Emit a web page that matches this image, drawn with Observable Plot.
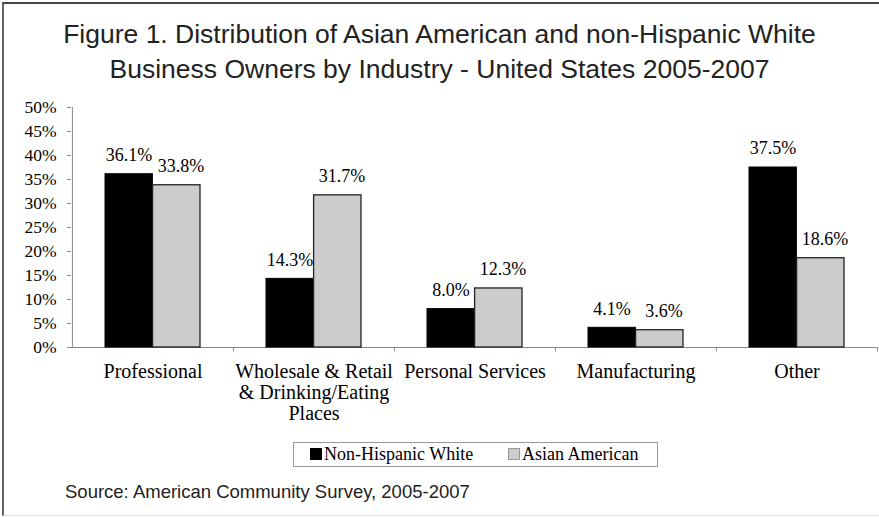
<!DOCTYPE html>
<html><head><meta charset="utf-8">
<script src="https://cdn.jsdelivr.net/npm/d3@7"></script>
<script src="https://cdn.jsdelivr.net/npm/@observablehq/plot@0.6"></script>
<style>
body{margin:0;background:#fff;width:879px;height:517px;overflow:hidden;position:relative;}
#frame{position:absolute;left:2px;top:2px;width:900px;height:511px;border-left:2px solid #666;border-top:2px solid #444;border-bottom:1px solid #ddd;}
#title{position:absolute;left:0;top:17px;width:879px;text-align:center;font-family:"Liberation Sans",Arial,sans-serif;font-size:26.5px;line-height:35px;color:#222;}
#chart{position:absolute;left:0;top:90px;}
#legend{position:absolute;left:293px;top:442px;width:363px;height:23px;border:1px solid #999;font-family:"Liberation Serif",serif;font-size:18px;color:#000;}
.item{position:absolute;top:1px;line-height:21px;white-space:nowrap;}
.sw{display:inline-block;width:10px;height:10px;margin-right:2px;vertical-align:0px;}
#source{position:absolute;left:65px;top:481px;font-family:"Liberation Sans",Arial,sans-serif;font-size:18.5px;color:#222;}
</style></head>
<body>
<div id="frame"></div>
<div id="title">Figure 1. Distribution of Asian American and non-Hispanic White<br>Business Owners by Industry - United States 2005-2007</div>
<div id="chart"></div>
<div id="legend"></div>
<div id="source">Source: American Community Survey, 2005-2007</div>
<script>
const categories = ["Professional","Wholesale","Personal Services","Manufacturing","Other"];
const tickLabels = ["Professional","Wholesale & Retail\n& Drinking/Eating\nPlaces","Personal Services","Manufacturing","Other"];
const series = ["Non-Hispanic White","Asian American"];
const whiteValues = [36.1,14.3,8.0,4.1,37.5];
const asianValues = [33.8,31.7,12.3,3.6,18.6];
const yTicks = [0,5,10,15,20,25,30,35,40,45,50];
const colors = ["#000000","#cccccc"];

const serif = "'Liberation Serif', 'Times New Roman', serif";
const white = categories.map((c,i)=>({category:c, series:series[0], value:whiteValues[i]}));
const asian = categories.map((c,i)=>({category:c, series:series[1], value:asianValues[i]}));
const labelOf = new Map(categories.map((c,i)=>[c,tickLabels[i]]));

const plot = Plot.plot({
  width: 879, height: 340,
  marginLeft: 71, marginRight: 2, marginTop: 17, marginBottom: 83,
  style: {fontFamily: serif, fontSize: "18px", color: "#000", background: "transparent", overflow: "visible"},
  x: {domain: categories, padding: 0, label: null},
  y: {domain: [0,50], label: null},
  marks: [
    Plot.axisY({ticks: yTicks, tickFormat: d => d + "%", tickSize: 4, tickPadding: 11, stroke: "#888", fill: "#000", fontSize: 17.5, fontFamily: serif, fontVariant: "normal"}),
    Plot.ruleY([0], {stroke: "#888"}),
    Plot.ruleX([categories[0]], {y1: 0, y2: 50, dx: -80.6, stroke: "#888"}),
    Plot.ruleX(categories.slice(1), {y1: 0, y2: -0.9, dx: -80.6, stroke: "#888"}),
    Plot.ruleX(categories.slice(-1), {y1: 0, y2: -0.9, dx: 80.6, stroke: "#888"}),
    Plot.barY(white, {x: "category", y: "value", fill: colors[0], stroke: "#000", insetLeft: 33, insetRight: 80.6}),
    Plot.barY(asian, {x: "category", y: "value", fill: colors[1], stroke: "#222", strokeWidth: 1.3, insetLeft: 80.6, insetRight: 33}),
    Plot.text(white, {x: "category", y: "value", text: d => d.value.toFixed(1) + "%", dx: -24, dy: -19, fontSize: 18, fontFamily: serif, fontVariant: "normal"}),
    Plot.text(asian, {x: "category", y: "value", text: d => d.value.toFixed(1) + "%", dx: 28, dy: -19, fontSize: 18, fontFamily: serif, fontVariant: "normal"}),
    Plot.axisX({tickSize: 0, tickPadding: 16, tickFormat: d => labelOf.get(d), lineHeight: 1.05, fontSize: 20, fontFamily: serif, fontVariant: "normal"})
  ]
});
document.getElementById("chart").appendChild(plot);

const legend = d3.select("#legend");
const legendLeft = [16, 214];
series.forEach((s,i)=>{
  const it = legend.append("div").attr("class","item").style("left", legendLeft[i]+"px");
  it.append("span").attr("class","sw").style("background", colors[i]).style("border", i ? "1px solid #999" : "1px solid #000");
  it.append("span").text(s);
});
</script>
</body></html>
